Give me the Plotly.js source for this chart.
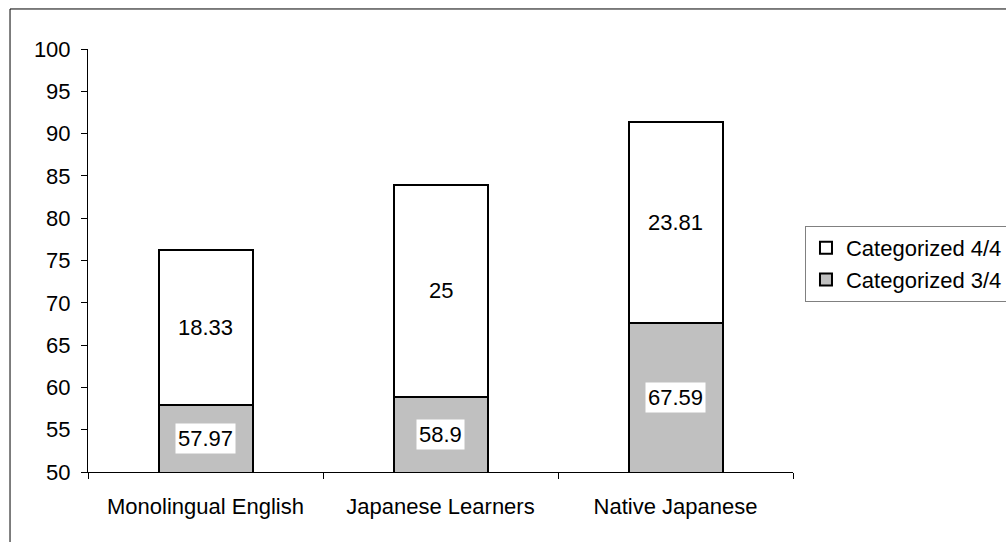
<!DOCTYPE html>
<html>
<head>
<meta charset="utf-8">
<script src="https://cdn.plot.ly/plotly-3.0.1.min.js"></script>
<style>
  html, body { margin: 0; padding: 0; background: #ffffff; }
  #chart { width: 1006px; height: 542px; }
</style>
</head>
<body>
<div id="chart"></div>
<script>
// Response groups
const groups = ['Monolingual English', 'Japanese Learners', 'Native Japanese'];
// Percent categorized 3/4 (lower segment)
const categorized34 = [57.97, 58.9, 67.59];
// Percent categorized 4/4 (stacked on top)
const categorized44 = [18.33, 25, 23.81];
// Value axis
const yRange = [50, 100];
const yTicks = [50, 55, 60, 65, 70, 75, 80, 85, 90, 95, 100];

const font = { family: 'Liberation Sans, Arial, sans-serif', size: 22, color: '#000000' };

const traces = [
  {
    type: 'bar',
    name: 'Categorized 3/4',
    x: groups,
    y: categorized34,
    marker: { color: '#c0c0c0', line: { color: '#000000', width: 2 } },
    hoverinfo: 'skip'
  },
  {
    type: 'bar',
    name: 'Categorized 4/4',
    x: groups,
    y: categorized44,
    marker: { color: '#ffffff', line: { color: '#000000', width: 2 } },
    hoverinfo: 'skip'
  }
];

// Value labels centred on the visible part of each segment
const annotations = [];
groups.forEach((g, i) => {
  annotations.push({
    x: g, y: (yRange[0] + categorized34[i]) / 2, xref: 'x', yref: 'y',
    text: String(categorized34[i]), showarrow: false,
    bgcolor: '#ffffff', borderpad: 2, font: font
  });
  annotations.push({
    x: g, y: categorized34[i] + categorized44[i] / 2, xref: 'x', yref: 'y',
    text: String(categorized44[i]), showarrow: false, font: font
  });
});

const layout = {
  width: 1006,
  height: 542,
  margin: { l: 88, r: 213, t: 49, b: 70, pad: 0, autoexpand: false },
  paper_bgcolor: '#ffffff',
  plot_bgcolor: '#ffffff',
  font: font,
  barmode: 'stack',
  bargap: 0.6,
  showlegend: true,
  legend: {
    x: 1.017, xanchor: 'left',
    y: 0.5816, yanchor: 'top',
    bgcolor: '#ffffff',
    bordercolor: '#808080', borderwidth: 1,
    font: font,
    itemwidth: 30,
    tracegroupgap: 0
  },
  xaxis: {
    type: 'category',
    showline: true, linecolor: '#000000', linewidth: 1,
    ticks: 'outside', tickson: 'boundaries', ticklen: 6, tickcolor: '#000000',
    ticklabelstandoff: 15,
    showgrid: false, zeroline: false,
    tickfont: font, fixedrange: true
  },
  yaxis: {
    range: yRange,
    tickvals: yTicks,
    showline: true, linecolor: '#000000', linewidth: 1,
    ticks: 'outside', ticklen: 6, tickcolor: '#000000',
    ticklabelstandoff: 6,
    showgrid: false, zeroline: false,
    tickfont: font, fixedrange: true
  },
  annotations: annotations,
  shapes: [
    {
      type: 'rect', xref: 'paper', yref: 'paper', layer: 'below',
      x0: -0.1106, x1: 1.35, y0: -0.2, y1: 1.0946,
      line: { color: '#000000', width: 1 }, fillcolor: 'rgba(0,0,0,0)'
    }
  ]
};

Plotly.newPlot('chart', traces, layout, { displayModeBar: false, staticPlot: true });
</script>
</body>
</html>
